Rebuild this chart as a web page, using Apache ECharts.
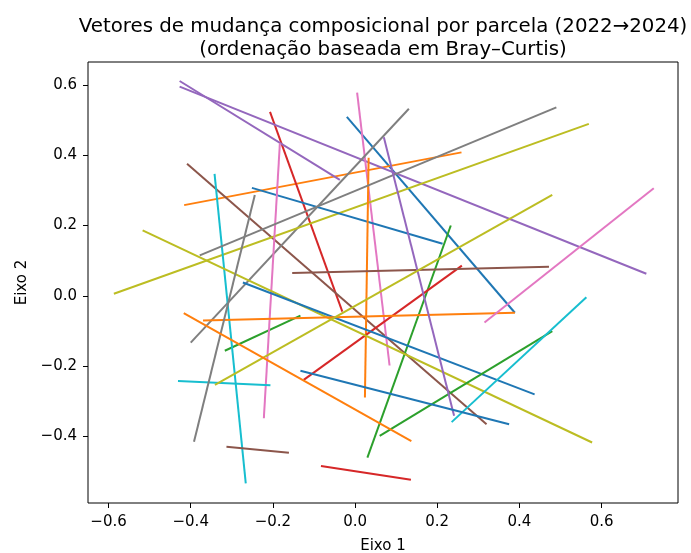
<!DOCTYPE html>
<html>
<head>
<meta charset="utf-8">
<script src="https://cdn.jsdelivr.net/npm/echarts@6/dist/echarts.min.js"></script>
<style>html,body{margin:0;padding:0;background:#fff}#c{width:691px;height:553px}</style>
</head>
<body>
<div id="c"></div>
<script>
// Segment start (2022) and end (2024) coordinates, in order (colour cycles tab10)
var x0 = [-0.020, -0.416, -0.317, -0.207, -0.427, -0.409, 0.005, 0.131, -0.587, -0.342,
          -0.251, 0.033, 0.030, -0.125, -0.427, -0.153, -0.183, 0.490, -0.517, -0.431,
          -0.273, -0.370, 0.060, -0.083, 0.070, -0.313, 0.315, -0.244, -0.341, 0.235,
          -0.133, -0.417];
var y0 = [0.509, 0.258, -0.156, 0.523, 0.595, 0.376, 0.578, 0.532, 0.006, 0.347,
          0.307, 0.393, -0.460, -0.239, 0.611, 0.065, 0.434, 0.536, 0.186, -0.242,
          0.038, -0.070, -0.398, -0.484, 0.451, -0.429, -0.076, 0.287, -0.253, -0.359,
          -0.213, -0.049];
var x1 = [0.389, 0.259, -0.133, -0.031, 0.709, 0.320, 0.084, -0.400, 0.569, -0.266,
          0.213, 0.024, 0.233, 0.260, -0.037, 0.472, -0.222, -0.378, 0.577, -0.206,
          0.437, 0.389, 0.480, 0.136, 0.241, -0.161, 0.727, -0.392, 0.480, 0.563,
          0.375, 0.137];
var y1 = [-0.048, 0.408, -0.056, -0.045, 0.063, -0.365, -0.198, -0.133, 0.489, -0.533,
          0.148, -0.289, 0.200, 0.086, 0.330, 0.083, -0.348, 0.115, -0.417, -0.254,
          -0.280, -0.048, -0.100, -0.523, -0.341, -0.446, 0.306, -0.415, 0.287, -0.004,
          -0.365, -0.413];
var xTicks = [-0.6, -0.4, -0.2, 0.0, 0.2, 0.4, 0.6];
var yTicks = [-0.4, -0.2, 0.0, 0.2, 0.4, 0.6];
var palette = ['#1f77b4','#ff7f0e','#2ca02c','#d62728','#9467bd','#8c564b','#e377c2','#7f7f7f','#bcbd22','#17becf'];

function fmt(v){ var s = Math.abs(v).toFixed(1); return (v < -1e-9 ? '\u2212' : '') + s; }

var series = [];
for (var i = 0; i < x0.length; i++) {
  series.push({
    type: 'line',
    data: [[x0[i], y0[i]], [x1[i], y1[i]]],
    showSymbol: false,
    symbol: 'none',
    silent: true,
    animation: false,
    lineStyle: { color: palette[i % 10], width: 2 },
    itemStyle: { color: palette[i % 10] }
  });
}
var font = 'DejaVu Sans';
var chart = echarts.init(document.getElementById('c'));
chart.setOption({
  animation: false,
  backgroundColor: '#fff',
  title: {
    text: 'Vetores de mudança composicional por parcela (2022\u21922024)\n(ordenação baseada em Bray\u2013Curtis)',
    left: 378, textAlign: 'center', top: 10,
    textStyle: { fontFamily: font, fontSize: 19.8, fontWeight: 'normal', color: '#000', lineHeight: 23.5 }
  },
  grid: { left: 88, right: 13, top: 62, bottom: 50, outerBoundsMode: 'none', containLabel: false, show: true, borderColor: '#000', borderWidth: 1, backgroundColor: 'transparent' },
  xAxis: {
    type: 'value', min: -0.65, max: 0.786,
    name: 'Eixo 1', nameLocation: 'middle', nameGap: 36,
    nameTextStyle: { fontFamily: font, fontSize: 15, color: '#000' },
    axisLine: { show: false, onZero: false },
    splitLine: { show: false },
    axisTick: { show: true, inside: false, length: 5, customValues: xTicks, lineStyle: { color: '#000', width: 1 } },
    axisLabel: { customValues: xTicks, formatter: fmt, fontFamily: font, fontSize: 15, color: '#000', margin: 12 }
  },
  yAxis: {
    type: 'value', min: -0.589, max: 0.665,
    name: 'Eixo 2', nameLocation: 'middle', nameGap: 58,
    nameTextStyle: { fontFamily: font, fontSize: 15, color: '#000' },
    axisLine: { show: false, onZero: false },
    splitLine: { show: false },
    axisTick: { show: true, inside: false, length: 5, customValues: yTicks, lineStyle: { color: '#000', width: 1 } },
    axisLabel: { customValues: yTicks, formatter: fmt, fontFamily: font, fontSize: 15, color: '#000', margin: 11 }
  },
  series: series
});
</script>
</body>
</html>
